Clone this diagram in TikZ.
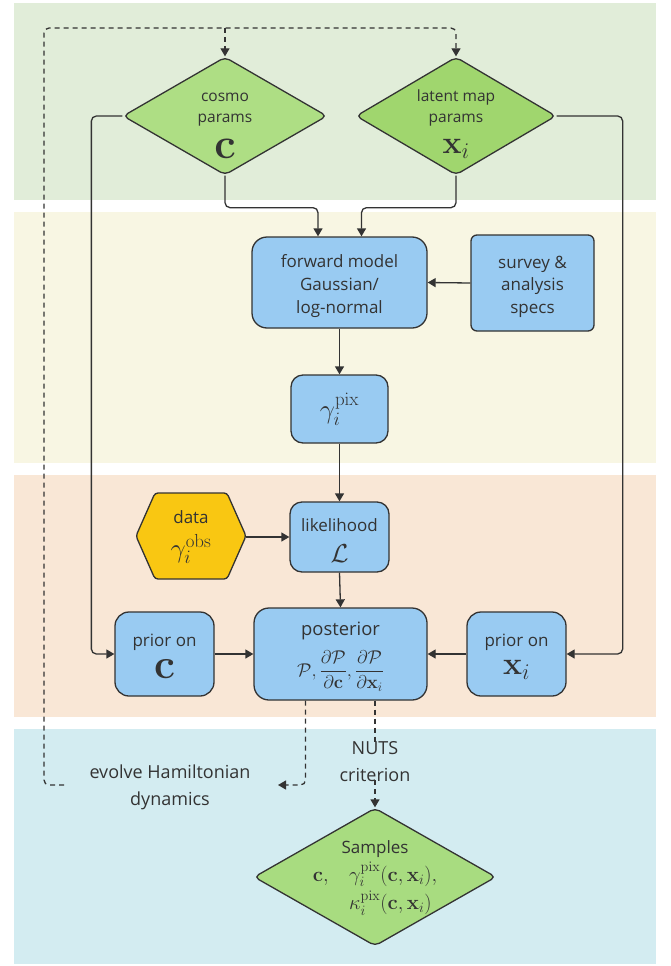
\RequirePackage{fix-cm}
\documentclass[tikz,border=0pt]{standalone}
\usepackage{amsmath}
\usepackage[no-math]{fontspec}
\setmainfont{Open Sans}
\usetikzlibrary{shapes.geometric,arrows.meta,calc}
\definecolor{bandG}{HTML}{E1EDD9}
\definecolor{bandY}{HTML}{F8F6E3}
\definecolor{bandO}{HTML}{F9E7D6}
\definecolor{bandB}{HTML}{D3ECF1}
\definecolor{boxB}{HTML}{99CBF2}
\definecolor{diamA}{HTML}{AEDE84}
\definecolor{diamB}{HTML}{A0D66E}
\definecolor{diamC}{HTML}{A8DC80}
\definecolor{dataY}{HTML}{F9C712}
\definecolor{ink}{HTML}{333333}
\newcommand\tup[1]{\rule{0pt}{#1}}
\begin{document}
\begin{tikzpicture}[x=1pt,y=-1pt,
  every node/.style={text=ink},
  boxnode/.style={draw=ink, line width=1.3pt, fill=boxB, rounded corners=13pt,
    align=center, inner sep=0pt, font=\fontsize{17}{22.7}\selectfont},
  diamnode/.style={draw=ink, line width=1.3pt, diamond, inner sep=0pt, rounded corners=5pt},
  dtext/.style={align=center, inner sep=0pt, font=\fontsize{15.5}{21}\selectfont},
  elabel/.style={align=center, inner sep=0pt, font=\fontsize{18}{27}\selectfont},
  conn/.style={draw=ink, line width=1.3pt, rounded corners=5pt},
  tip/.style={-{Triangle[length=8pt,width=9pt]}},
  dashconn/.style={draw=ink, line width=1.3pt, dash pattern=on 5pt off 4pt, rounded corners=5pt}
]
\useasboundingbox (0,0) rectangle (670,966);
% bands
\fill[bandG] (14,3) rectangle (656,200);
\fill[bandY] (14,212) rectangle (656,463);
\fill[bandO] (14,475) rectangle (656,717);
\fill[bandB] (14,729) rectangle (656,964);

% diamonds
\node[diamnode, fill=diamA, minimum width=204pt, minimum height=118pt] (cosmo) at (225,116) {};
\node[dtext] (cosmot) at (225,126) {cosmo\\params\\[12pt]{\fontsize{43}{30}\selectfont$\mathbf{c}$}};
\node[diamnode, fill=diamB, minimum width=200pt, minimum height=118pt] (latent) at (456,116) {};
\node[dtext] (latentt) at (456,124) {latent map\\params\\[10pt]{\fontsize{32}{30}\selectfont$\mathbf{x}_i$}};

% top band boxes
\node[boxnode, minimum width=175pt, minimum height=91pt, rounded corners=15pt] (fwd) at (339.5,282.5)
  {\tup{20pt}forward model\\Gaussian/\\log-normal};
\node[boxnode, minimum width=123pt, minimum height=96pt, rounded corners=6pt] (survey) at (532.5,283)
  {\tup{20pt}survey \&\\analysis\\specs};
\node[boxnode, minimum width=97pt, minimum height=68pt, rounded corners=12pt] (gpix) at (339.5,409)
  {\fontsize{27}{27}\selectfont$\gamma_i^{\mathrm{pix}}$};

% data hexagon
\fill[dataY, draw=ink, line width=1.3pt, rounded corners=3pt]
  (136,536) -- (155,493) -- (227,493) -- (246,536) -- (227,579) -- (155,579) -- cycle;
\node[align=center, inner sep=0pt, minimum width=110pt, minimum height=86pt,
  font=\fontsize{17}{22.7}\selectfont] (data) at (191,537)
  {data\\[10pt]{\fontsize{27}{27}\selectfont$\gamma_i^{\mathrm{obs}}$}};

\node[boxnode, minimum width=99pt, minimum height=70pt, rounded corners=12pt] (like) at (339.5,537)
  {\tup{20pt}likelihood\\[9pt]{\fontsize{26}{26}\selectfont$\mathcal{L}$}};

\node[boxnode, minimum width=99pt, minimum height=84pt, rounded corners=14pt] (priorc) at (164.5,654)
  {\tup{17pt}prior on\\[8pt]{\fontsize{42}{30}\selectfont$\mathbf{c}$}};
\node[boxnode, minimum width=173pt, minimum height=92pt, rounded corners=15pt] (post) at (340.5,654)
  {{\fontsize{18.4}{22}\selectfont\tup{19pt}posterior}\\[10pt]{\fontsize{18.5}{22}\selectfont$\mathcal{P}, \dfrac{\partial\mathcal{P}}{\partial\mathbf{c}}, \dfrac{\partial\mathcal{P}}{\partial\mathbf{x}_i}$}};
\node[boxnode, minimum width=99pt, minimum height=84pt, rounded corners=14pt] (priorx) at (516.5,654)
  {\tup{18pt}prior on\\[5pt]{\fontsize{32}{30}\selectfont$\mathbf{x}_i$}};

% samples
\node[diamnode, fill=diamC, minimum width=242pt, minimum height=138pt] (samples) at (375,877) {};
\node[align=center, inner sep=0pt, font=\fontsize{17}{22.7}\selectfont] (samplest) at (375,879)
  {Samples\\[3pt]{\fontsize{20.5}{24}\selectfont$\begin{array}{@{}l@{}l@{}}\mathbf{c},\quad & \gamma_i^{\mathrm{pix}}(\mathbf{c},\mathbf{x}_i),\\[2pt] & \kappa_i^{\mathrm{pix}}(\mathbf{c},\mathbf{x}_i)\end{array}$}};

% edge labels
\node[elabel] (evolve) at (170,787) {evolve Hamiltonian\\dynamics};
\node[elabel] (nuts) at (375,762) {NUTS\\criterion};

% solid connectors
\draw[conn, tip] (cosmo.west) -- ++(-31,0) |- (priorc.west);
\draw[conn, tip] (latent.east) -- ++(66,0) |- (priorx.east);
\draw[conn, tip] (cosmo.south) -- ++(0,32) -| ([xshift=-21.5pt]fwd.north);
\draw[conn, tip] (latent.south) -- ++(0,32) -| ([xshift=22pt]fwd.north);
\draw[conn, tip] (survey.west) -- (fwd.east);
\draw[conn, tip] (fwd.south) -- (gpix.north);
\draw[conn, tip] (gpix.south) -- (like.north);
\draw[conn, tip] (data.east) -- (like.west);
\draw[conn, tip] (like.south) -- (post.north);
\draw[conn, tip] (priorc.east) -- (post.west);
\draw[conn, tip] (priorx.west) -- (post.east);

% dashed connectors
\coordinate (hamtip) at (278,785);
\coordinate (loopstart) at (64,785);
\coordinate (looptop) at (44,28);
\draw[dashconn, tip] ([xshift=-35pt]post.south) |- (hamtip);
\draw[dashconn, tip] (loopstart) -| (looptop) -| (latent.north);
\draw[dashconn, tip] (cosmo.north |- looptop) -- (cosmo.north);
\draw[dashconn] ([xshift=34.5pt]post.south) -- ([yshift=-3pt]nuts.north);
\draw[dashconn, tip] ([yshift=2pt]nuts.south) -- (samples.north);
\end{tikzpicture}
\end{document}
